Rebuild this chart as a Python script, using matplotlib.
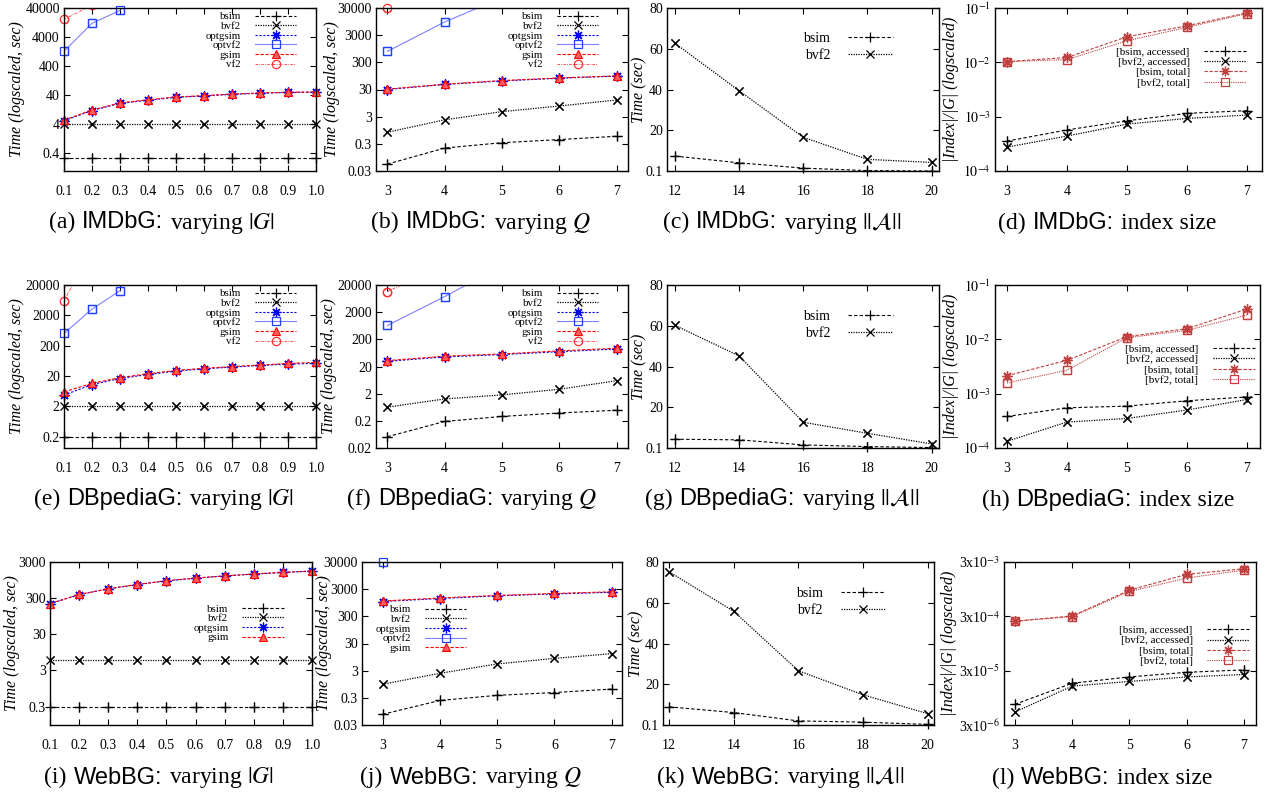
import numpy as np
import matplotlib.pyplot as plt
from matplotlib.offsetbox import TextArea, HPacker, AnnotationBbox

plt.rcParams['font.family'] = ['Liberation Serif', 'DejaVu Serif']
plt.rcParams['mathtext.fontset'] = 'stix'

W, H = 1270, 798

# x values
x_g = [0.1, 0.2, 0.3, 0.4, 0.5, 0.6, 0.7, 0.8, 0.9, 1.0]
x_g_labels = ['0.1', '0.2', '0.3', '0.4', '0.5', '0.6', '0.7', '0.8', '0.9', '1.0']
x_q = [3, 4, 5, 6, 7]
x_a = [12, 14, 16, 18, 20]

# IMDbG
imdb_g_bsim = [0.27, 0.27, 0.27, 0.27, 0.27, 0.27, 0.27, 0.27, 0.27, 0.27]
imdb_g_bvf2 = [4.0, 4.0, 4.0, 4.0, 4.0, 4.0, 4.0, 4.0, 4.0, 4.0]
imdb_g_optgsim = [5.3, 12.0, 21, 27, 34, 38, 43, 47, 50, 51]
imdb_g_gsim = [5.6, 12.5, 22, 28, 35, 39, 44, 48, 51, 52]
imdb_g_optvf2 = [1300, 11900, 33000]
imdb_g_vf2 = [16300, 50000]

imdb_q_bsim = [0.054, 0.21, 0.33, 0.43, 0.57]
imdb_q_bvf2 = [0.8, 2.3, 4.6, 7.4, 12.3]
imdb_q_optgsim = [30, 46, 62, 78, 93]
imdb_q_gsim = [31, 47, 64, 80, 95]
imdb_q_optvf2 = [760, 9200, 72000]
imdb_q_vf2 = [30000, 100000]

imdb_a_bsim = [7.4, 4.1, 1.5, 0.3, 0.1]
imdb_a_bvf2 = [62.7, 39.4, 16.6, 5.8, 4.3]

imdb_idx_bsim_acc = [3.55e-4, 5.7e-4, 8.4e-4, 1.15e-3, 1.29e-3]
imdb_idx_bvf2_acc = [2.75e-4, 4.4e-4, 7.3e-4, 9.3e-4, 1.07e-3]
imdb_idx_bsim_tot = [0.0103, 0.0123, 0.0296, 0.047, 0.081]
imdb_idx_bvf2_tot = [0.0103, 0.0112, 0.025, 0.044, 0.079]

# DBpediaG
dbp_g_bsim = [0.2, 0.2, 0.2, 0.2, 0.2, 0.2, 0.2, 0.2, 0.2, 0.2]
dbp_g_bvf2 = [2.0, 2.0, 2.0, 2.0, 2.0, 2.0, 2.0, 2.0, 2.0, 2.0]
dbp_g_optgsim = [4.7, 10.5, 16.5, 22.5, 29, 34.5, 39.5, 44.5, 49.5, 52]
dbp_g_gsim = [6.0, 11.5, 17.7, 23.8, 30.6, 36, 41, 46, 52, 56]
dbp_g_optvf2 = [505, 3200, 13000]
dbp_g_vf2 = [6000, 300000]

dbp_q_bsim = [0.052, 0.19, 0.29, 0.39, 0.49]
dbp_q_bvf2 = [0.64, 1.28, 1.8, 2.9, 6.0]
dbp_q_optgsim = [31, 45, 55, 70, 88]
dbp_q_gsim = [33, 48, 58, 75, 94]
dbp_q_optvf2 = [650, 7500, 100000]
dbp_q_vf2 = [11500, 115000]

dbp_a_bsim = [4.4, 4.1, 1.6, 0.8, 0.3]
dbp_a_bvf2 = [60.2, 45.2, 12.7, 7.3, 2.1]

dbp_idx_bsim_acc = [3.8e-4, 5.5e-4, 5.9e-4, 7.4e-4, 8.7e-4]
dbp_idx_bvf2_acc = [1.33e-4, 3.0e-4, 3.5e-4, 5.0e-4, 7.8e-4]
dbp_idx_bsim_tot = [2.14e-3, 4.1e-3, 1.12e-2, 1.57e-2, 3.6e-2]
dbp_idx_bvf2_tot = [1.57e-3, 2.7e-3, 1.07e-2, 1.46e-2, 2.8e-2]

# WebBG
web_g_bsim = [0.3, 0.3, 0.3, 0.3, 0.3, 0.3, 0.3, 0.3, 0.3, 0.3]
web_g_bvf2 = [5.7, 5.7, 5.7, 5.7, 5.7, 5.7, 5.7, 5.7, 5.7, 5.7]
web_g_optgsim = [210, 375, 540, 710, 900, 1070, 1230, 1390, 1540, 1680]
web_g_gsim = [213, 380, 546, 720, 912, 1080, 1240, 1400, 1550, 1690]

web_q_bsim = [0.074, 0.24, 0.37, 0.47, 0.63]
web_q_bvf2 = [0.95, 2.4, 5.3, 8.5, 12.7]
web_q_optgsim = [1050, 1360, 1700, 2000, 2300]
web_q_gsim = [1100, 1420, 1760, 2080, 2400]
web_q_optvf2 = [29000]

web_a_bsim = [9.0, 6.2, 2.1, 1.5, 0.4]
web_a_bvf2 = [75.2, 55.8, 26.7, 14.9, 5.7]

web_idx_bsim_acc = [7.2e-6, 1.76e-5, 2.3e-5, 2.8e-5, 3.1e-5]
web_idx_bvf2_acc = [5.2e-6, 1.56e-5, 1.9e-5, 2.3e-5, 2.55e-5]
web_idx_bsim_tot = [2.44e-4, 3.05e-4, 9.1e-4, 1.78e-3, 2.26e-3]
web_idx_bvf2_tot = [2.44e-4, 2.96e-4, 8.6e-4, 1.52e-3, 2.13e-3]

DARKRED = '#c04040'
STYLE = {
    'bsim': dict(color='black', linestyle=(0, (3, 2)), marker='+', ms=6.5, mew=0.9, lw=0.8),
    'bvf2': dict(color='black', linestyle=(0, (1, 1)), marker='x', ms=5.5, mew=0.9, lw=0.9),
    'optgsim': dict(color='#0000ee', linestyle=(0, (2, 1.5)), marker=(8, 2, 0), ms=7, mew=0.9, lw=0.8),
    'optvf2': dict(color='#8080ff', linestyle='-', marker='s', ms=6, mfc='none', mec='#2040ff', mew=0.9, lw=0.8),
    'gsim': dict(color='#ff0000', linestyle=(0, (3, 1.5)), marker='^', ms=6, mfc='#ff6060', mec='#ff0000', mew=0.8, lw=0.8),
    'vf2': dict(color='#ff3030', linestyle=(0, (3, 1.5, 1, 1.5)), marker='o', ms=6, mfc='none', mew=0.9, lw=0.6),
    'bsim_tot': dict(color=DARKRED, linestyle=(0, (3, 1.5)), marker=(8, 2, 0), ms=7, mew=0.9, lw=0.8),
    'bvf2_tot': dict(color=DARKRED, linestyle=(0, (1, 1)), marker='s', ms=6, mfc='none', mew=0.9, lw=0.8),
}

fig = plt.figure(figsize=(W / 100, H / 100), dpi=100)


def make_ax(left, top, right, bottom):
    return fig.add_axes([left / W, 1 - bottom / H, (right - left) / W, (bottom - top) / H])


def frame(ax, xlim, ylim, xt, xtl, yt, ytl, ylabel, lab_off, log=True):
    if log:
        ax.set_yscale('log')
    ax.set_xlim(xlim)
    ax.set_ylim(ylim)
    ax.set_xticks(xt, xtl)
    ax.set_yticks(yt, ytl)
    ax.minorticks_off()
    ax.tick_params(direction='in', top=True, right=True, length=4, width=0.8, labelsize=10)
    ax.tick_params(axis='x', pad=10)
    ax.tick_params(axis='y', pad=3)
    for s in ax.spines.values():
        s.set_linewidth(1.0)
    ax.set_ylabel(ylabel, fontstyle='italic', fontsize=11.5)
    bb = ax.get_position()
    ax.yaxis.set_label_coords(lab_off / (bb.width * W), 0.5)


def draw(ax, x, y, name, label):
    st = STYLE[name]
    y = np.asarray(y, float)
    x = np.asarray(x[:len(y)], float)
    ax.plot(x, y, label=label, **st)
    lo, hi = ax.get_ylim()
    keep = (y >= lo * 0.99) & (y <= hi * 1.01)
    ax.plot(x[keep], y[keep], **{**st, 'linestyle': 'none'}, clip_on=False)


def key(ax, anchor, fs=7.8, hl=3.8, sp=0.0):
    ax.legend(loc='upper right', bbox_to_anchor=anchor, frameon=False, fontsize=fs,
              markerfirst=False, handlelength=hl, labelspacing=sp, borderpad=0.2,
              handletextpad=1.3, borderaxespad=0, numpoints=1)


def log_ticks(base, n):
    return [base * 10 ** k for k in range(n)]


def fmt(v):
    return ('%g' % v)


def panel_g(rect, ylim, yt, series, anchor, lab_off):
    ax = make_ax(*rect)
    frame(ax, (0.1, 1.0), ylim, x_g, x_g_labels, yt, [fmt(v) for v in yt],
          'Time (logscaled, sec)', lab_off)
    for name, y in series:
        draw(ax, x_g, y, name, name)
    key(ax, anchor)
    return ax


def panel_q(rect, xlim, ylim, yt, series, anchor, lab_off):
    ax = make_ax(*rect)
    frame(ax, xlim, ylim, x_q, [str(v) for v in x_q], yt, [fmt(v) for v in yt],
          'Time (logscaled, sec)', lab_off)
    for name, y in series:
        draw(ax, x_q, y, name, name)
    key(ax, anchor)
    return ax


def panel_a(rect, xlim, bsim, bvf2, anchor, lab_off):
    ax = make_ax(*rect)
    yt = [0.1, 20, 40, 60, 80]
    frame(ax, xlim, (0.1, 80), x_a, [str(v) for v in x_a], yt, ['0.1', '20', '40', '60', '80'],
          'Time (sec)', lab_off, log=False)
    draw(ax, x_a, bsim, 'bsim', 'bsim')
    draw(ax, x_a, bvf2, 'bvf2', 'bvf2')
    key(ax, anchor, fs=10, hl=3.2, sp=0.3)
    return ax


def panel_idx(rect, xlim, ylim, yt, ytl, series, anchor, lab_off):
    ax = make_ax(*rect)
    frame(ax, xlim, ylim, x_q, [str(v) for v in x_q], yt, ytl,
          '|Index|/|G| (logscaled)', lab_off)
    for name, label, y in series:
        draw(ax, x_q, y, name, label)
    key(ax, anchor, fs=8, hl=3.8, sp=0.05)
    return ax


pow_labels = [r'$10^{-4}$', r'$10^{-3}$', r'$10^{-2}$', r'$10^{-1}$']
web_labels = [r'3x10$^{-6}$', r'3x10$^{-5}$', r'3x10$^{-4}$', r'3x10$^{-3}$']

# row 1: IMDbG
panel_g((64, 8, 316, 171), (0.1, 40000), log_ticks(0.4, 6),
        [('bsim', imdb_g_bsim), ('bvf2', imdb_g_bvf2), ('optgsim', imdb_g_optgsim),
         ('optvf2', imdb_g_optvf2), ('gsim', imdb_g_gsim), ('vf2', imdb_g_vf2)],
        (0.93, 0.99), -39)
panel_q((376, 8, 628, 171), (2.8, 7.2), (0.03, 30000), log_ticks(0.03, 7),
        [('bsim', imdb_q_bsim), ('bvf2', imdb_q_bvf2), ('optgsim', imdb_q_optgsim),
         ('optvf2', imdb_q_optvf2), ('gsim', imdb_q_gsim), ('vf2', imdb_q_vf2)],
        (0.89, 0.99), -36)
panel_a((667, 8, 939, 171), (11.75, 20.23), imdb_a_bsim, imdb_a_bvf2, (0.84, 0.87), -20)
panel_idx((995, 8, 1262, 171), (2.8, 7.25), (1e-4, 1e-1), log_ticks(1e-4, 4), pow_labels,
          [('bsim', '[bsim, accessed]', imdb_idx_bsim_acc),
           ('bvf2', '[bvf2, accessed]', imdb_idx_bvf2_acc),
           ('bsim_tot', '[bsim, total]', imdb_idx_bsim_tot),
           ('bvf2_tot', '[bvf2, total]', imdb_idx_bvf2_tot)],
          (0.95, 0.775), -36)

# row 2: DBpediaG
panel_g((64, 285, 316, 448), (0.085, 20000), log_ticks(0.2, 6),
        [('bsim', dbp_g_bsim), ('bvf2', dbp_g_bvf2), ('optgsim', dbp_g_optgsim),
         ('optvf2', dbp_g_optvf2), ('gsim', dbp_g_gsim), ('vf2', dbp_g_vf2)],
        (0.93, 0.99), -39)
panel_q((376, 285, 628, 448), (2.8, 7.2), (0.02, 20000), log_ticks(0.02, 7),
        [('bsim', dbp_q_bsim), ('bvf2', dbp_q_bvf2), ('optgsim', dbp_q_optgsim),
         ('optvf2', dbp_q_optvf2), ('gsim', dbp_q_gsim), ('vf2', dbp_q_vf2)],
        (0.89, 0.99), -39)
panel_a((667, 285, 939, 448), (11.75, 20.23), dbp_a_bsim, dbp_a_bvf2, (0.84, 0.865), -20)
panel_idx((995, 285, 1260, 448), (2.8, 7.22), (1e-4, 1e-1), log_ticks(1e-4, 4), pow_labels,
          [('bsim', '[bsim, accessed]', dbp_idx_bsim_acc),
           ('bvf2', '[bvf2, accessed]', dbp_idx_bvf2_acc),
           ('bsim_tot', '[bsim, total]', dbp_idx_bsim_tot),
           ('bvf2_tot', '[bvf2, total]', dbp_idx_bvf2_tot)],
          (0.99, 0.65), -36)

# row 3: WebBG
panel_g((50, 562, 312, 725), (0.093, 3000), log_ticks(0.3, 5),
        [('bsim', web_g_bsim), ('bvf2', web_g_bvf2), ('optgsim', web_g_optgsim),
         ('gsim', web_g_gsim)],
        (0.90, 0.755), -30)
panel_q((362, 562, 622, 725), (2.64, 7.18), (0.03, 30000), log_ticks(0.03, 7),
        [('bsim', web_q_bsim), ('bvf2', web_q_bvf2), ('optgsim', web_q_optgsim),
         ('optvf2', web_q_optvf2), ('gsim', web_q_gsim)],
        (0.41, 0.75), -30)
panel_a((663, 562, 934, 725), (11.81, 20.2), web_a_bsim, web_a_bvf2, (0.83, 0.865), -19)
panel_idx((1004, 562, 1256, 725), (2.81, 7.21), (3e-6, 3e-3), log_ticks(3e-6, 4), web_labels,
          [('bsim', '[bsim, accessed]', web_idx_bsim_acc),
           ('bvf2', '[bvf2, accessed]', web_idx_bvf2_acc),
           ('bsim_tot', '[bsim, total]', web_idx_bsim_tot),
           ('bvf2_tot', '[bvf2, total]', web_idx_bvf2_tot)],
          (0.983, 0.625), -47)


# captions: serif text with a sans-serif dataset name, packed on one baseline
def caption(cx, cy, tag, dataset, rest):
    parts = [(tag, 'Liberation Serif'), (dataset + ':', 'Liberation Sans'),
             (rest, 'Liberation Serif')]
    boxes = [TextArea(t, textprops=dict(fontsize=17, family=f)) for t, f in parts]
    pack = HPacker(children=boxes, align='baseline', pad=0, sep=5)
    ab = AnnotationBbox(pack, (cx / W, 1 - cy / H), xycoords='figure fraction',
                        frameon=False, box_alignment=(0.5, 0.5), pad=0)
    fig.add_artist(ab)


vary_g = r'varying $|G|$'
vary_q = r'varying $Q$'
vary_a = r'varying $||\mathcal{A}||$'
captions = [
    (162, 223, '(a)', 'IMDbG', vary_g),
    (481, 223, '(b)', 'IMDbG', vary_q),
    (782, 223, '(c)', 'IMDbG', vary_a),
    (1107, 223, '(d)', 'IMDbG', 'index size'),
    (164, 500, '(e)', 'DBpediaG', vary_g),
    (472, 500, '(f)', 'DBpediaG', vary_q),
    (782, 500, '(g)', 'DBpediaG', vary_a),
    (1108, 500, '(h)', 'DBpediaG', 'index size'),
    (159, 778, '(i)', 'WebBG', vary_g),
    (471, 778, '(j)', 'WebBG', vary_q),
    (781, 778, '(k)', 'WebBG', vary_a),
    (1102, 778, '(l)', 'WebBG', 'index size'),
]
for cx, cy, tag, ds, rest in captions:
    caption(cx, cy, tag, ds, rest)

fig.savefig('out.png', dpi=100)
